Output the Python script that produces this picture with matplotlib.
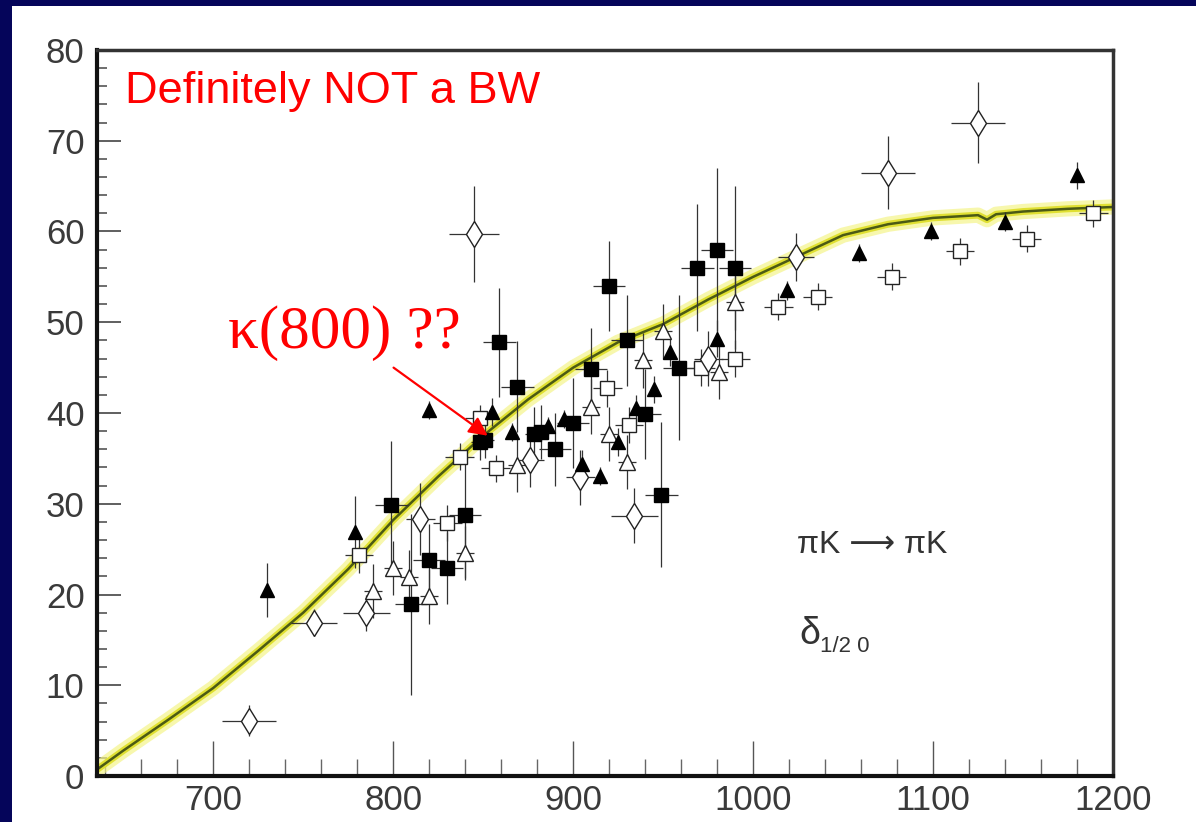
import matplotlib
matplotlib.use('Agg')
import matplotlib.pyplot as plt
from matplotlib.ticker import MultipleLocator
from matplotlib.patches import Rectangle

# ---------------- data ----------------
curve_mass = [636, 650, 675, 700, 725, 750, 775, 800, 825, 850, 875, 900, 925,
              950, 975, 1000, 1025, 1050, 1075, 1100, 1125, 1130, 1135, 1150, 1175, 1200]
curve_phase = [0.8, 2.8, 6.2, 9.7, 13.8, 18.0, 22.8, 28.2, 33.0, 37.5, 41.5, 45.0, 47.8,
               49.8, 52.5, 55.0, 57.3, 59.6, 60.8, 61.5, 61.8, 61.3, 61.9, 62.2, 62.5, 62.7]

# filled squares
fsq_mass = [799, 810, 820, 830, 840, 848, 851, 859, 869, 878, 882, 890, 900, 910,
            920, 930, 940, 949, 959, 969, 980, 990]
fsq_phase = [29.9, 18.9, 23.8, 22.9, 28.8, 36.8, 37.0, 47.8, 42.9, 37.7, 37.9, 36.0, 38.9, 44.9,
             54.0, 48.0, 39.9, 31.0, 45.0, 56.0, 58.0, 56.0]
fsq_dphase = [7, 10, 4, 4, 7, 2, 2, 6, 5, 3, 3, 4, 5, 4.5,
              5, 5, 5, 8, 8, 7, 9, 9]
fsq_dmass = [9, 9, 9, 9, 9, 5, 5, 9, 9, 5, 5, 9, 9, 9,
             9, 9, 9, 9, 9, 9, 9, 9]

# filled triangles
ftr_mass = [730, 779, 820, 855, 866, 886, 895, 905, 915, 925, 935, 945, 954, 980,
            1019, 1059, 1099, 1140, 1180]
ftr_phase = [20.5, 26.9, 40.3, 40.1, 37.9, 38.6, 39.3, 34.4, 33.1, 36.8, 40.5, 42.6, 46.7, 48.2,
             53.5, 57.6, 60.1, 61.1, 66.2]
ftr_dphase = [3, 4, 1, 1.5, 1, 1, 1, 1.5, 1, 1.5, 1.5, 1.5, 1.5, 2,
              1, 1, 1, 1, 1.5]

# open squares
osq_mass = [781, 830, 837, 848, 857, 919, 931, 971, 990, 1014, 1036, 1077, 1115, 1152, 1189]
osq_phase = [24.4, 27.9, 35.2, 39.4, 33.9, 42.7, 38.7, 45.0, 46.0, 51.7, 52.8, 55.0, 57.8, 59.2, 62.0]
osq_dphase = [2, 2, 1.5, 1.5, 1.5, 2, 2, 2, 2, 1.5, 1.5, 1.5, 1.5, 1.5, 1.5]

# open triangles
otr_mass = [789, 800, 809, 820, 840, 869, 910, 920, 930, 939, 950, 981, 990]
otr_phase = [20.4, 22.9, 21.9, 19.8, 24.6, 34.3, 40.7, 37.7, 34.6, 45.8, 49.0, 44.5, 52.2]
otr_dphase = [3, 3, 3, 3, 3, 3, 3, 3, 3, 3, 3, 3, 3]

# open diamonds
odi_mass = [720, 756, 785, 815, 845, 876, 904, 934, 975, 1024, 1075, 1125]
odi_phase = [6.1, 16.9, 18.0, 28.3, 59.7, 34.8, 32.9, 28.7, 46.0, 57.2, 66.5, 72.0]
odi_dphase = [1.7, 1.5, 2, 4, 5.3, 3, 3, 3, 3, 2.6, 4, 4.5]
odi_dmass = [15, 13, 13, 8, 14, 8, 8, 13, 8, 10, 15, 15]

x_ticks = [700, 800, 900, 1000, 1100, 1200]
y_ticks = [0, 10, 20, 30, 40, 50, 60, 70, 80]

# ---------------- figure ----------------
W, H = 1196, 822
fig = plt.figure(figsize=(W / 100, H / 100), dpi=100, facecolor='#05055a')
fig.patches.append(Rectangle((12 / W, 0), 1, 1 - 6 / H, transform=fig.transFigure,
                             facecolor='white', edgecolor='none', zorder=-10))

ax = fig.add_axes([97 / W, 1 - 776 / H, (1113 - 97) / W, (776 - 50) / H])
ax.set_zorder(5)
ax.set_facecolor('white')
ax.set_xlim(635.4, 1200)
ax.set_ylim(0, 80)

# curve
ax.plot(curve_mass, curve_phase, color='#f4f48a', lw=11, alpha=0.7, zorder=2, solid_capstyle='round')
ax.plot(curve_mass, curve_phase, color='#e0e032', lw=5, zorder=2.1)
ax.plot(curve_mass, curve_phase, color='#4b5a14', lw=1.8, zorder=2.2)

ecol = '#333333'
ekw = dict(ecolor=ecol, elinewidth=0.9, capsize=0, zorder=3)

ax.errorbar(osq_mass, osq_phase, yerr=osq_dphase, xerr=8, fmt='s', ms=10,
            mfc='white', mec='#222222', mew=1.0, **ekw)
ax.errorbar(otr_mass, otr_phase, yerr=otr_dphase, xerr=5, fmt='^', ms=11,
            mfc='white', mec='#222222', mew=1.0, **ekw)
ax.errorbar(odi_mass, odi_phase, yerr=odi_dphase, xerr=odi_dmass, fmt='d', ms=13,
            mfc='white', mec='#222222', mew=1.0, **ekw)
ax.errorbar(ftr_mass, ftr_phase, yerr=ftr_dphase, fmt='^', ms=9.5,
            mfc='black', mec='black', **ekw)
ax.errorbar(fsq_mass, fsq_phase, yerr=fsq_dphase, xerr=fsq_dmass, fmt='s', ms=10,
            mfc='black', mec='black', **ekw)

# ticks
ax.set_xticks(x_ticks)
ax.set_yticks(y_ticks)
ax.xaxis.set_minor_locator(MultipleLocator(20))
ax.yaxis.set_minor_locator(MultipleLocator(2))
ax.tick_params(axis='x', which='major', direction='in', length=25, width=1, color='#555555', pad=6)
ax.tick_params(axis='x', which='minor', direction='in', length=12, width=1, color='#666666')
ax.tick_params(axis='y', which='major', direction='in', length=17, width=1.2, color='#444444', pad=9)
ax.tick_params(axis='y', which='minor', direction='in', length=7, width=1.2, color='#555555')

lab_font = ['Liberation Sans Narrow', 'Liberation Sans', 'DejaVu Sans']
for lab in ax.get_xticklabels() + ax.get_yticklabels():
    lab.set_family(lab_font)
    lab.set_fontsize(25)
    lab.set_color('#3a3a3a')

for side in ['left', 'bottom']:
    ax.spines[side].set_linewidth(3)
    ax.spines[side].set_color('#111111')
for side in ['top', 'right']:
    ax.spines[side].set_linewidth(2.5)
    ax.spines[side].set_color('#333333')

# annotations
ax.text(650.7, 74.2, 'Definitely NOT a BW', color='#ff0000', fontsize=32.5,
        family=['Liberation Sans', 'DejaVu Sans'], va='baseline', ha='left', zorder=5)
ax.text(708.4, 47.2, 'κ(800) ??', color='#ff0000', fontsize=44,
        family=['Liberation Serif', 'DejaVu Serif'], va='baseline', ha='left', zorder=5)
ax.annotate('', xy=(852.5, 37.5), xytext=(800.2, 45.0),
            arrowprops=dict(arrowstyle='-|>', color='#ff0000', lw=1.6,
                            mutation_scale=28, shrinkA=0, shrinkB=0), zorder=6)

ax.text(1024.5, 24.6, 'πK ⟶ πK', color='#333333', fontsize=23,
        family=['Liberation Sans', 'DejaVu Sans'],
        va='baseline', ha='left')
ax.text(1025.5, 14.6, 'δ', color='#333333', fontsize=27,
        family=['Liberation Sans', 'DejaVu Sans'], va='baseline', ha='left')
ax.annotate('1/2 0', xy=(1025.5, 14.6), xytext=(15, -6), textcoords='offset points',
            color='#333333', fontsize=16, family=['Liberation Sans', 'DejaVu Sans'],
            va='baseline', ha='left')

fig.savefig('out.png', dpi=100, facecolor=fig.get_facecolor())
